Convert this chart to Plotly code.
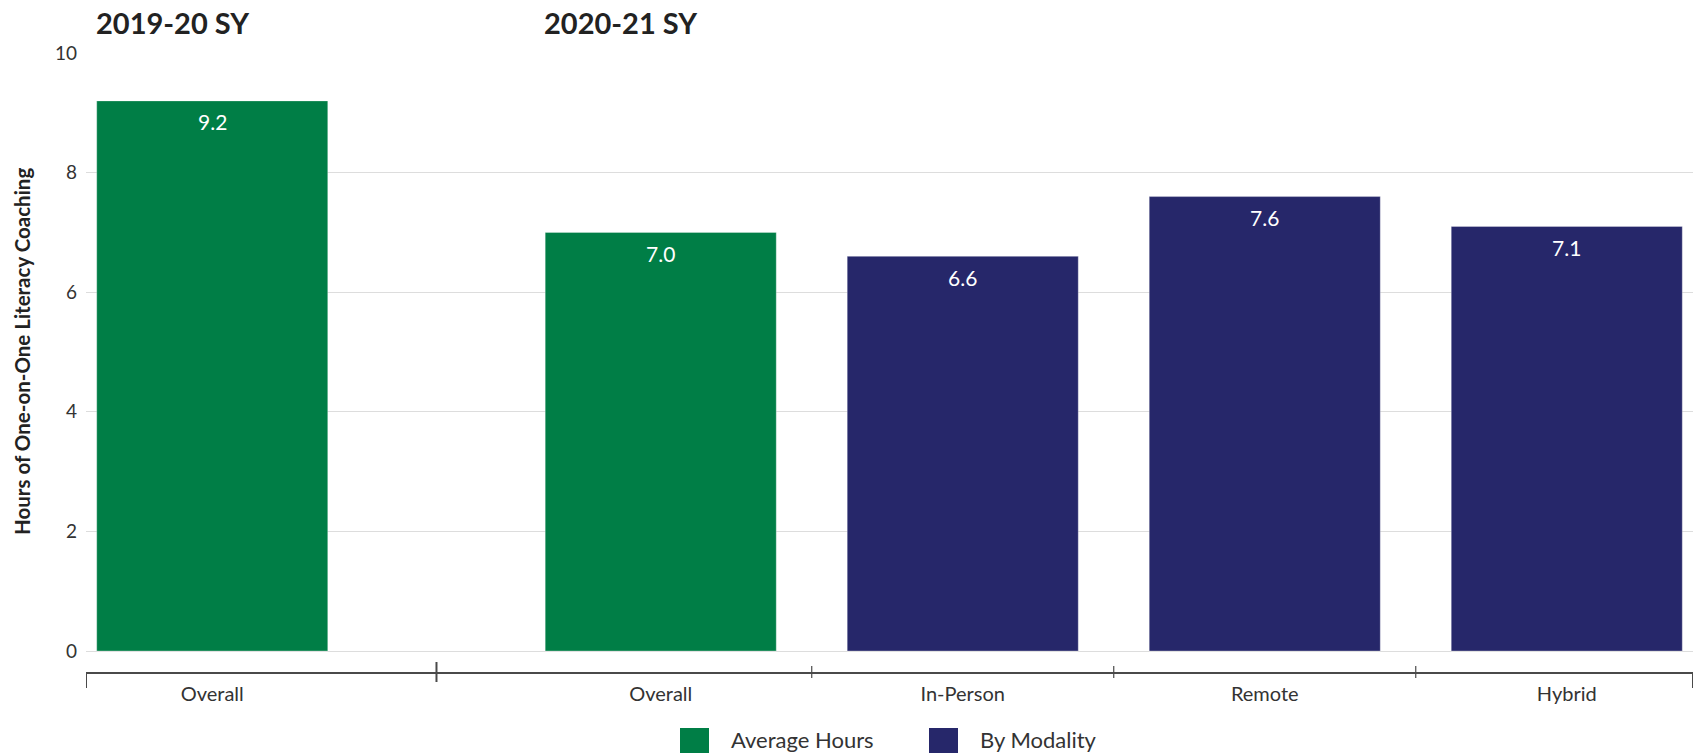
import plotly.graph_objects as go

# ---------------- data ----------------
periods = ["2019-20 SY", "2020-21 SY", "2020-21 SY", "2020-21 SY", "2020-21 SY"]
categories = ["Overall", "Overall", "In-Person", "Remote", "Hybrid"]
series = ["Average Hours", "Average Hours", "By Modality", "By Modality", "By Modality"]
hours = [9.2, 7.0, 6.6, 7.6, 7.1]
series_names = ["Average Hours", "By Modality"]
y_ticks = [0, 2, 4, 6, 8, 10]

# ---------------- style ----------------
COLORS = {"Average Hours": "#007E46", "By Modality": "#26276A"}
FONT = "Lato"
TEXT = "#333333"
AXIS = "#4a4a4a"
GROUP_GAP = 0.485
BAR_WIDTH = 0.765
EDGE_PAD = 0.418

period_order = list(dict.fromkeys(periods))
xs = [i + GROUP_GAP * period_order.index(p) for i, p in enumerate(periods)]

fig = go.Figure()
for name in series_names:
    idx = [i for i, s in enumerate(series) if s == name]
    fig.add_trace(go.Bar(
        x=[xs[i] for i in idx],
        y=[hours[i] for i in idx],
        name=name,
        width=BAR_WIDTH,
        marker=dict(color=COLORS[name], line=dict(color="rgba(255,255,255,0.3)", width=1)),
        showlegend=False,
        hoverinfo="skip",
    ))

# value labels inside bars
for x, v in zip(xs, hours):
    fig.add_annotation(x=x, y=v, yref="y", xref="x", text=f"{v:.1f}", showarrow=False,
                       yanchor="middle", yshift=-21,
                       font=dict(family=FONT, size=21, color="white"))

# period headers
for p in period_order:
    first = periods.index(p)
    fig.add_annotation(x=xs[first] - BAR_WIDTH / 2, xref="x", y=1, yref="paper",
                       text=p, showarrow=False, xanchor="left", yanchor="middle",
                       xshift=-3, yshift=31,
                       font=dict(family=FONT, size=29, color="#222222", weight=700))

# y-axis title
fig.add_annotation(x=0, xref="paper", xshift=-64, y=(y_ticks[0] + y_ticks[-1]) / 2, yref="y",
                   text="Hours of One-on-One Literacy Coaching", textangle=-90,
                   showarrow=False, xanchor="center", yanchor="middle",
                   font=dict(family=FONT, size=20.5, color="#222222", weight=700))

x_range = [xs[0] - EDGE_PAD, xs[-1] + EDGE_PAD]

# axis ticks: ends and dividers between bars
shapes = []
for xe in x_range:
    shapes.append(dict(type="line", xref="x", yref="paper", ysizemode="pixel", yanchor=0,
                       x0=xe, x1=xe, y0=0, y1=-16, line=dict(color=AXIS, width=2)))
for i in range(len(xs) - 1):
    mid = (xs[i] + xs[i + 1]) / 2
    major = periods[i] != periods[i + 1]
    h = 10 if major else 6
    shapes.append(dict(type="line", xref="x", yref="paper", ysizemode="pixel", yanchor=0,
                       x0=mid, x1=mid, y0=h, y1=-h,
                       line=dict(color=AXIS, width=2 if major else 1.2)))

# custom legend
W, H = 1698, 753
ML, MR, MT, MB = 86, 5, 53, 81
PW, PH = W - ML - MR, H - MT - MB
def px(xp):
    return (xp - ML) / PW
def py(yp):
    return (H - MB - yp) / PH

legend_items = [(series_names[0], 680), (series_names[1], 929)]
for name, left in legend_items:
    shapes.append(dict(type="rect", xref="paper", yref="paper",
                       x0=px(left), x1=px(left + 29), y0=py(728), y1=py(758),
                       fillcolor=COLORS[name], line=dict(width=0)))
    fig.add_annotation(x=px(left + 49), xref="paper", y=py(740), yref="paper",
                       text=name, showarrow=False, xanchor="left", yanchor="middle",
                       font=dict(family=FONT, size=22, color=TEXT))

fig.update_layout(
    width=W, height=H,
    margin=dict(l=ML, r=MR, t=MT, b=MB),
    plot_bgcolor="white", paper_bgcolor="white",
    barmode="overlay",
    shapes=shapes,
    font=dict(family=FONT, color=TEXT),
    xaxis=dict(range=x_range, tickmode="array", tickvals=xs, ticktext=categories,
               ticks="", showgrid=False, zeroline=False, showline=True,
               linecolor=AXIS, linewidth=2, ticklabelstandoff=3,
               tickfont=dict(family=FONT, size=20, color=TEXT)),
    yaxis=dict(range=[-0.351, 10.001], tickmode="array", tickvals=y_ticks,
               showgrid=True, gridcolor="#dddddd", gridwidth=1, zeroline=False,
               showline=False, ticks="", ticklabelstandoff=8,
               tickfont=dict(family=FONT, size=19, color=TEXT)),
)

fig.write_html("out.html")
